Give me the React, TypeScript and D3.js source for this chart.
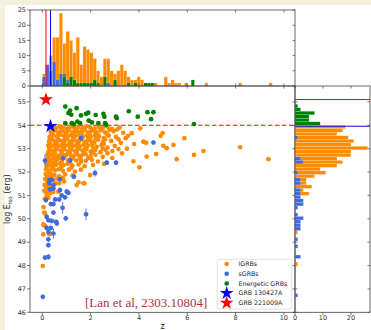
import React from 'react';
import * as d3 from 'd3';

// ---- scatter data: [z, log Eiso] (sGRBs carry an error on log Eiso) ----
const lgrbPts: [number, number][] = [
  [0.42,53.92],[0.58,53.88],[0.71,53.95],[0.86,53.9],[1.02,53.86],[1.18,53.94],[1.33,53.89],[1.49,53.93],[1.66,53.87],[1.82,53.95],[1.98,53.9],[2.16,53.86],[2.33,53.93],[2.5,53.88],[2.7,53.94],[2.88,53.85],[3.2,53.9],[4.05,53.87],
  [0.5,53.83],[0.78,53.8],[1.08,53.84],[1.42,53.81],[1.75,53.83],[2.08,53.8],[2.4,53.84],[2.78,53.8],[3.1,53.82],
  [0.35,53.72],[0.5,53.78],[0.66,53.7],[0.8,53.76],[0.95,53.72],[1.1,53.79],[1.26,53.7],[1.4,53.75],[1.57,53.72],[1.72,53.78],[1.9,53.7],[2.05,53.76],[2.22,53.72],[2.42,53.78],[2.6,53.7],[2.95,53.75],[3.35,53.68],[3.7,53.66],[4.98,53.66],
  [0.38,53.64],[0.68,53.62],[1.0,53.65],[1.32,53.63],[1.62,53.66],[1.95,53.62],[2.28,53.64],[2.68,53.62],[3.55,53.55],
  [0.3,53.5],[0.45,53.58],[0.6,53.52],[0.74,53.6],[0.9,53.55],[1.05,53.5],[1.2,53.58],[1.36,53.53],[1.52,53.6],[1.68,53.52],[1.85,53.57],[2.0,53.5],[2.18,53.58],[2.35,53.53],[2.55,53.45],[2.75,53.56],[3.05,53.5],[3.45,53.45],[4.9,53.55],
  [0.36,53.44],[0.64,53.42],[0.95,53.46],[1.27,53.43],[1.58,53.46],[1.9,53.42],[2.22,53.45],[2.6,53.4],[3.15,53.4],
  [0.28,53.32],[0.42,53.38],[0.55,53.3],[0.7,53.36],[0.85,53.33],[1.0,53.4],[1.15,53.3],[1.3,53.36],[1.45,53.32],[1.62,53.38],[1.78,53.3],[1.95,53.35],[2.1,53.3],[2.3,53.38],[2.5,53.28],[2.85,53.33],[3.25,53.25],[4.18,53.3],[4.3,53.25],[5.88,53.45],
  [0.32,53.24],[0.6,53.22],[0.9,53.26],[1.2,53.23],[1.5,53.26],[1.82,53.22],[2.15,53.25],[2.55,53.2],[3.8,53.2],
  [0.25,53.15],[0.38,53.12],[0.52,53.18],[0.65,53.1],[0.8,53.16],[0.96,53.12],[1.1,53.18],[1.25,53.1],[1.4,53.15],[1.55,53.1],[1.72,53.17],[1.88,53.12],[2.05,53.18],[2.25,53.08],[2.45,53.15],[2.7,53.05],[3.0,53.12],[3.5,53.0],[5.01,53.12],[5.43,53.16],[8.19,53.06],
  [0.28,53.04],[0.55,53.02],[0.85,53.06],[1.15,53.03],[1.45,53.06],[1.78,53.02],[2.1,53.05],[2.5,53.0],[3.15,52.98],
  [0.3,52.95],[0.44,52.9],[0.6,52.98],[0.75,52.92],[0.9,52.97],[1.05,52.9],[1.2,52.96],[1.35,52.9],[1.5,52.98],[1.66,52.92],[1.82,52.97],[2.0,52.88],[2.2,52.95],[2.4,52.85],[2.62,52.95],[2.9,52.9],[3.3,52.8],[5.15,53.02],[6.67,52.9],
  [0.25,52.85],[0.52,52.83],[0.8,52.87],[1.1,52.84],[1.42,52.86],[1.72,52.82],[2.08,52.85],[2.7,52.8],
  [0.22,52.75],[0.35,52.72],[0.5,52.78],[0.66,52.7],[0.82,52.76],[0.98,52.72],[1.14,52.78],[1.3,52.7],[1.46,52.75],[1.62,52.7],[1.8,52.76],[2.0,52.68],[2.2,52.74],[2.5,52.65],[2.9,52.6],[4.71,52.77],[6.28,52.73],
  [0.26,52.65],[0.55,52.64],[0.9,52.66],[1.2,52.63],[1.55,52.65],[1.9,52.6],
  [0.2,52.55],[0.32,52.5],[0.46,52.58],[0.6,52.52],[0.75,52.6],[1.06,52.5],[1.24,52.58],[1.4,52.5],[1.58,52.55],[1.8,52.48],[2.05,52.52],[2.3,52.45],[3.77,52.46],[4.32,52.66],[5.56,52.55],[9.36,52.55],
  [0.25,52.44],[0.52,52.42],[0.8,52.45],[1.15,52.42],[1.6,52.44],
  [0.18,52.35],[0.3,52.3],[0.42,52.38],[0.56,52.3],[0.72,52.36],[0.88,52.3],[1.05,52.35],[1.25,52.28],[1.5,52.32],[1.75,52.25],[2.1,52.3],[2.55,52.35],[4.02,52.2],
  [0.2,52.22],[0.45,52.25],[0.78,52.2],[1.2,52.18],
  [0.15,52.12],[0.26,52.05],[0.4,52.15],[0.52,52.08],[0.68,52.12],[0.85,52.05],[1.1,52.1],[1.35,52.02],[1.6,52.1],[1.98,51.87],
  [0.14,51.92],[0.22,51.85],[0.34,51.95],[0.5,51.88],[0.7,51.82],[0.95,51.9],[1.25,51.85],[1.7,51.52],
  [0.18,51.78],[0.4,51.8],[0.85,51.75],
  [0.12,51.7],[0.2,51.62],[0.3,51.72],[0.45,51.65],[0.62,51.72],[0.9,51.6],[1.42,51.44],
  [0.1,51.45],[0.15,51.38],[0.24,51.48],[0.36,51.4],[0.55,51.5],[0.7,51.52],[1.74,51.52],[1.5,51.56],
  [0.2,51.3],[0.4,51.28],
  [0.08,51.2],[0.16,51.12],[0.28,51.2],[0.32,51.09],[0.45,51.15],[0.66,51.16],
  [0.18,50.97],[0.1,50.85],[0.25,50.9],
  [0.05,50.5],[0.11,50.23],[0.08,50.27],[0.04,49.76],[0.06,49.73],[0.11,49.7],[0.32,49.37],[0.04,49.33],[0.29,49.34],[0.02,47.98],
];

const sgrbPts: [number, number, number][] = [
  [1.6,53.45,0.1],[4.6,53.26,0.1],[0.11,52.49,0.28],[0.87,52.59,0.1],[1.15,52.49,0.1],[2.67,52.4,0.1],[3.05,52.4,0.1],
  [2.18,51.95,0.15],[1.31,51.8,0.1],[0.29,51.66,0.1],[0.39,51.66,0.1],[0.73,51.69,0.1],[0.29,51.52,0.1],[0.46,51.44,0.1],
  [0.46,51.3,0.1],[0.32,51.26,0.1],[0.73,51.23,0.1],[1.01,51.16,0.1],[1.08,51.11,0.1],[0.8,51.0,0.1],[0.94,50.92,0.1],
  [0.15,50.8,0.1],[0.53,50.83,0.1],[0.7,50.83,0.1],[0.35,50.63,0.1],[0.46,50.63,0.1],[0.84,50.47,0.25],[0.46,50.27,0.1],
  [1.81,50.19,0.25],[0.18,50.08,0.1],[0.97,50.02,0.1],[0.25,49.94,0.1],[0.39,49.91,0.1],[0.57,49.87,0.1],[0.6,49.8,0.1],
  [0.18,49.61,0.1],[0.35,49.61,0.1],[0.25,49.44,0.1],[0.46,49.37,0.22],[0.25,49.12,0.1],[0.25,48.87,0.1],
  [0.11,48.34,0.1],[0.25,48.37,0.12],[0.02,46.66,0.1],
];

const energeticPts: [number, number][] = [
  [0.95,54.8],[1.15,54.63],[1.08,54.52],[1.2,54.45],[1.42,54.73],[1.6,54.42],[1.81,54.49],[1.9,54.54],[2.21,54.44],[2.53,54.49],
  [2.57,54.37],[3.05,54.37],[3.08,54.3],[3.58,54.6],[3.95,54.37],[4.35,54.56],[4.6,54.56],[4.5,54.26],[0.95,54.09],[1.22,54.09],
  [1.45,54.16],[1.56,54.09],[1.92,54.2],[2.32,54.09],[2.6,54.09],[2.64,54.02],[6.28,54.05],[1.3,54.05],[2.05,54.12],
];

const grb130427A = { z: 0.34, logE: 53.96 };
const grb221009A = { z: 0.151, logE: 55.1 };
const energeticCut = 54;

// ---- redshift histogram (counts per bin, bins of zBinWidth from zBinStart) ----
const zBinStart = 0;
const zBinWidth = 0.14;
const zHistLgrb = [4,7,10,16,16,24,14,18,15,11,16,7,13,12,11,9,5,3,9,9,5,4,5,7,5,3,2,2,3,2,1,1,1,1,0,0,3,1,2,1,1,0,1,0,0,0,0,0,1,0,0,0,0,0,0,0,0,0,1,0,0,0,0,0,0,0,0,1];
const zHistSgrb = [3,7,5,8,2,4,4,2,0,0,0,0,0,0,0,0,0,0,0,1];
const zHistEnergetic = [0,0,0,0,0,0,3,1,3,2,1,1,1,1,1,2,1,0,3,0,0,2,0,0,0,1,0,1,0,0,1,1,1,0,0,0,0,0,0,0,0,0,0,0,2];

// ---- log Eiso histogram (bins of eBinWidth, counted down / up from the cut) ----
const eBinWidth = 0.15;
const eHistLgrbDown = [18,17,15,19,21,20,26,20,20,15,17,15,9,11,7,4,4,6,3,5,0,0,0,0,0,0,0,0,1,0,1,0,0,0,0,0,0,0,0,1];
const eHistSgrbDown = [0,0,0,1,0,0,0,0,0,2,3,0,0,1,0,2,2,0,2,2,2,3,3,1,0,1,3,2,2,2,0,0,1,0,1,0,0,2,0,0,0,0,0,0,0,0,0,0,1];
const eHistEnergeticUp = [9,5,5,7,2,1];

// ---- ticks ----
const zTicks = [0, 2, 4, 6, 8, 10];
const eTicks = [46, 47, 48, 49, 50, 51, 52, 53, 54, 55];
const zCountTicks = [0, 5, 10, 15, 20, 25];
const eCountTicks = [0, 10, 20];

const legendItems = [
  { label: 'lGRBs', kind: 'dot', color: '#ff8c00' },
  { label: 'sGRBs', kind: 'dot', color: '#4169e1' },
  { label: 'Energetic GRBs', kind: 'dot', color: '#008000' },
  { label: 'GRB 130427A', kind: 'star', color: '#0000ff' },
  { label: 'GRB 221009A', kind: 'star', color: '#ff0000' },
];

const ORANGE = '#ff8c00';
const BLUE = '#4169e1';
const GREEN = '#008000';
const AX = '#444';
const FONT = 'DejaVu Sans, sans-serif';

export default function App() {
  const W = 371, H = 330;
  const L = 30, R = 295, RR = 370, T = 10, MT = 86, B = 312.3;

  const x = d3.scaleLinear().domain([-0.51, 10.46]).range([L, R]);
  const y = d3.scaleLinear().domain([46, 55.68]).range([B, MT]);
  const yc = d3.scaleLinear().domain([0, 25]).range([MT, T]);
  const xc = d3.scaleLinear().domain([0, 26.8]).range([R, RR]);

  const star = d3.symbol().type(d3.symbolStar).size(62)();
  const starLeg = d3.symbol().type(d3.symbolStar).size(58)();
  const r = 2.35;

  const tickTxt = { fontFamily: FONT, fontSize: 6.5, fill: '#333' } as const;

  const zBar = (counts: number[], color: string, key: string) =>
    counts.map((c, j) => c > 0 ? (
      <rect key={key + j} x={x(zBinStart + j * zBinWidth)} width={x(zBinWidth) - x(0)}
        y={yc(c)} height={yc(0) - yc(c)} fill={color} stroke="#fff" strokeOpacity={0.45} strokeWidth={0.4} />
    ) : null);

  const eBarDown = (counts: number[], color: string, key: string) =>
    counts.map((c, i) => c > 0 ? (
      <rect key={key + i} x={xc(0)} width={xc(c) - xc(0)}
        y={y(energeticCut - i * eBinWidth)} height={y(energeticCut - (i + 1) * eBinWidth) - y(energeticCut - i * eBinWidth)}
        fill={color} stroke="#fff" strokeOpacity={0.45} strokeWidth={0.4} />
    ) : null);

  const eBarUp = (counts: number[], color: string, key: string) =>
    counts.map((c, i) => c > 0 ? (
      <rect key={key + i} x={xc(0)} width={xc(c) - xc(0)}
        y={y(energeticCut + (i + 1) * eBinWidth)} height={y(energeticCut + i * eBinWidth) - y(energeticCut + (i + 1) * eBinWidth)}
        fill={color} stroke="#fff" strokeOpacity={0.45} strokeWidth={0.4} />
    ) : null);

  return (
    <svg width={W} height={H} style={{ position: 'absolute', left: 0, top: 0, display: 'block' }}>
      <rect x={0} y={0} width={W} height={H} fill="#f3f1db" />
      <rect x={5} y={5} width={W - 5} height={H - 5} fill="#ffffff" />

      <defs>
        <clipPath id="clipTop"><rect x={L} y={T} width={R - L} height={MT - T} /></clipPath>
        <clipPath id="clipMain"><rect x={L} y={MT} width={R - L} height={B - MT} /></clipPath>
        <clipPath id="clipRight"><rect x={R} y={MT} width={RR - R} height={B - MT} /></clipPath>
      </defs>

      {/* top histogram: redshift */}
      <g clipPath="url(#clipTop)">
        {zBar(zHistLgrb, ORANGE, 'zl')}
        {zBar(zHistSgrb, BLUE, 'zs')}
        {zBar(zHistEnergetic, GREEN, 'ze')}
        <line x1={x(grb221009A.z)} x2={x(grb221009A.z)} y1={T} y2={MT} stroke="#ff0000" strokeWidth={1} />
        <line x1={x(grb130427A.z)} x2={x(grb130427A.z)} y1={T} y2={MT} stroke="#0000ff" strokeWidth={1} />
      </g>
      <rect x={L} y={T} width={R - L} height={MT - T} fill="none" stroke={AX} strokeWidth={0.8} />
      {zCountTicks.map(t => (
        <g key={'yc' + t}>
          <line x1={L - 3} x2={L} y1={yc(t)} y2={yc(t)} stroke={AX} strokeWidth={0.7} />
          <line x1={R - 2.5} x2={R} y1={yc(t)} y2={yc(t)} stroke={AX} strokeWidth={0.7} />
          <text x={L - 4} y={yc(t)} dy="0.35em" textAnchor="end" {...tickTxt}>{t}</text>
        </g>
      ))}
      {zTicks.map(t => (
        <g key={'zt' + t}>
          <line x1={x(t)} x2={x(t)} y1={T} y2={T + 2.5} stroke={AX} strokeWidth={0.7} />
          <line x1={x(t)} x2={x(t)} y1={MT - 2.5} y2={MT + 2.5} stroke={AX} strokeWidth={0.7} />
        </g>
      ))}

      {/* main scatter */}
      <g clipPath="url(#clipMain)">
        <line x1={L} x2={R} y1={y(energeticCut)} y2={y(energeticCut)} stroke="#ff0000" strokeWidth={1.1} strokeDasharray="4.5,2.5" />
        {lgrbPts.map(([z, e], i) => (
          <circle key={'l' + i} cx={x(z)} cy={y(e)} r={r} fill={ORANGE} />
        ))}
        {sgrbPts.map(([z, e, er], i) => (
          <g key={'s' + i}>
            <line x1={x(z)} x2={x(z)} y1={y(e - er)} y2={y(e + er)} stroke={BLUE} strokeWidth={0.9} />
            <circle cx={x(z)} cy={y(e)} r={r} fill={BLUE} />
          </g>
        ))}
        {energeticPts.map(([z, e], i) => (
          <circle key={'g' + i} cx={x(z)} cy={y(e)} r={r} fill={GREEN} />
        ))}
        <path d={star ?? ''} transform={`translate(${x(grb130427A.z)},${y(grb130427A.logE)})`} fill="#0000ff" />
        <path d={star ?? ''} transform={`translate(${x(grb221009A.z)},${y(grb221009A.logE)})`} fill="#ff0000" />
      </g>
      <rect x={L} y={MT} width={R - L} height={B - MT} fill="none" stroke={AX} strokeWidth={0.8} />
      {eTicks.map(t => (
        <g key={'et' + t}>
          <line x1={L - 3} x2={L} y1={y(t)} y2={y(t)} stroke={AX} strokeWidth={0.7} />
          <line x1={R - 2.5} x2={R + 2.5} y1={y(t)} y2={y(t)} stroke={AX} strokeWidth={0.7} />
          <line x1={RR - 2.5} x2={RR} y1={y(t)} y2={y(t)} stroke={AX} strokeWidth={0.7} />
          <text x={L - 4} y={y(t)} dy="0.35em" textAnchor="end" {...tickTxt}>{t}</text>
        </g>
      ))}
      {zTicks.map(t => (
        <g key={'zb' + t}>
          <line x1={x(t)} x2={x(t)} y1={B} y2={B + 3} stroke={AX} strokeWidth={0.7} />
          <text x={x(t)} y={B + 8} textAnchor="middle" {...tickTxt}>{t}</text>
        </g>
      ))}

      {/* right histogram: log Eiso */}
      <g clipPath="url(#clipRight)">
        {eBarDown(eHistLgrbDown, ORANGE, 'el')}
        {eBarDown(eHistSgrbDown, BLUE, 'es')}
        {eBarUp(eHistEnergeticUp, GREEN, 'ee')}
        <line x1={R} x2={RR} y1={y(grb221009A.logE)} y2={y(grb221009A.logE)} stroke="#ff0000" strokeWidth={1} />
        <line x1={R} x2={RR} y1={y(grb130427A.logE)} y2={y(grb130427A.logE)} stroke="#0000ff" strokeWidth={1} />
      </g>
      <rect x={R} y={MT} width={RR - R} height={B - MT} fill="none" stroke={AX} strokeWidth={0.8} />
      {eCountTicks.map(t => (
        <g key={'ec' + t}>
          <line x1={xc(t)} x2={xc(t)} y1={B} y2={B + 3} stroke={AX} strokeWidth={0.7} />
          <line x1={xc(t)} x2={xc(t)} y1={MT} y2={MT + 2.5} stroke={AX} strokeWidth={0.7} />
          <text x={xc(t)} y={B + 8} textAnchor="middle" {...tickTxt}>{t}</text>
        </g>
      ))}

      {/* axis labels */}
      <text transform={`translate(10,${(MT + B) / 2}) rotate(-90)`} textAnchor="middle"
        fontFamily={FONT} fontSize={8} fill="#222">
        log E<tspan fontSize={5.5} dy={1.8}>iso</tspan><tspan dy={-1.8}> (erg)</tspan>
      </text>
      <text x={(L + R) / 2} y={328.5} textAnchor="middle" fontFamily={FONT} fontSize={8} fill="#222">z</text>

      {/* citation */}
      <text x={85} y={306.5} fontFamily="Liberation Serif, serif" fontSize={13} fill="#b03040">[Lan et al, 2303.10804]</text>

      {/* legend */}
      <g>
        <rect x={217.3} y={259.3} width={74.4} height={49.7} rx={1.5} fill="#fff" fillOpacity={0.85} stroke="#cccccc" strokeWidth={0.6} />
        {legendItems.map((it, i) => {
          const ly = 264 + i * 9.75;
          return (
            <g key={it.label}>
              {it.kind === 'dot'
                ? <circle cx={226.7} cy={ly} r={r} fill={it.color} />
                : <path d={starLeg ?? ''} transform={`translate(226.7,${ly})`} fill={it.color} />}
              <text x={238.5} y={ly} dy="0.35em" fontFamily={FONT} fontSize={6.3} fill="#222">{it.label}</text>
            </g>
          );
        })}
      </g>
    </svg>
  );
}
